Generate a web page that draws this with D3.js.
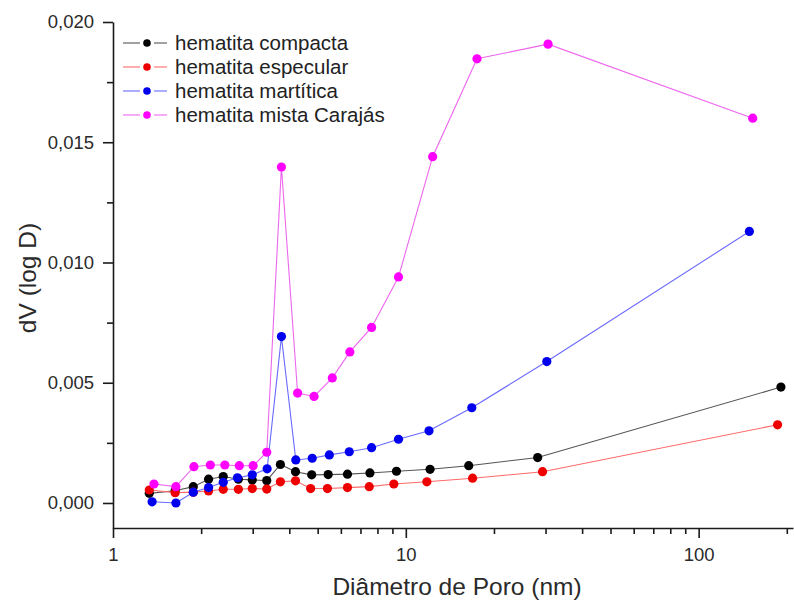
<!DOCTYPE html>
<html>
<head>
<meta charset="utf-8">
<script src="https://cdn.jsdelivr.net/npm/d3@7"></script>
<style>
  body { margin: 0; background: #fff; }
  svg { display: block; }
</style>
</head>
<body>
<svg id="chart" width="794" height="601"></svg>
<script>
// pore diameters (nm) and dV(log D)
const compactaX = [1.33, 1.63, 1.88, 2.12, 2.38, 2.68, 2.99, 3.35, 3.73, 4.20, 4.77, 5.43, 6.32, 7.54, 9.29, 12.1, 16.4, 28.2, 191];
const compactaY = [0.00040, 0.00051, 0.00068, 0.00099, 0.00110, 0.00099, 0.00096, 0.00093, 0.00160, 0.00130, 0.00117, 0.00118, 0.00120, 0.00125, 0.00132, 0.00140, 0.00155, 0.00189, 0.00482];

const especularX = [1.33, 1.63, 1.88, 2.12, 2.38, 2.68, 2.99, 3.35, 3.73, 4.20, 4.73, 5.40, 6.32, 7.50, 9.10, 11.8, 16.9, 29.3, 186];
const especularY = [0.00054, 0.00043, 0.00045, 0.00050, 0.00057, 0.00057, 0.00060, 0.00058, 0.00088, 0.00092, 0.00060, 0.00060, 0.00064, 0.00068, 0.00079, 0.00088, 0.00103, 0.00130, 0.00325];

const martiticaX = [1.36, 1.64, 1.88, 2.12, 2.38, 2.66, 2.99, 3.36, 3.76, 4.21, 4.79, 5.48, 6.41, 7.64, 9.44, 12.0, 16.8, 30.3, 149];
const martiticaY = [0.00005, 0.00000, 0.00045, 0.00064, 0.00086, 0.00105, 0.00117, 0.00142, 0.00692, 0.00179, 0.00186, 0.00200, 0.00213, 0.00230, 0.00265, 0.00300, 0.00396, 0.00588, 0.01129];

const mistaX = [1.38, 1.64, 1.89, 2.15, 2.41, 2.70, 3.01, 3.35, 3.76, 4.27, 4.86, 5.61, 6.44, 7.64, 9.44, 12.35, 17.5, 30.6, 153];
const mistaY = [0.00079, 0.00068, 0.00151, 0.00158, 0.00158, 0.00155, 0.00155, 0.00211, 0.01397, 0.00457, 0.00443, 0.00520, 0.00628, 0.00730, 0.00940, 0.01440, 0.01847, 0.01908, 0.01600];

const seriesNames = ['hematita compacta', 'hematita especular', 'hematita martítica', 'hematita mista Carajás'];
const yMajorTicks = [0, 0.005, 0.010, 0.015, 0.020];
const yMinorTicks = [0.0025, 0.0075, 0.0125, 0.0175];
const xMajorTicks = [1, 10, 100];
const xMinorTicks = [2, 3, 4, 5, 6, 7, 8, 9, 20, 30, 40, 50, 60, 70, 80, 90, 200];

const series = [
    { name: seriesNames[0], xs: compactaX, ys: compactaY, dot: '#000000', line: '#555555' },
    { name: seriesNames[1], xs: especularX, ys: especularY, dot: '#ee0000', line: '#ff6a6a' },
    { name: seriesNames[2], xs: martiticaX, ys: martiticaY, dot: '#0000ee', line: '#6a6aff' },
    { name: seriesNames[3], xs: mistaX, ys: mistaY, dot: '#ff00ff', line: '#ee66ee' }
];

const svg = d3.select('#chart');
const plotLeft = 113, plotRight = 793, plotTop = 22, plotBottom = 528;
const font = '"Liberation Sans", Arial, sans-serif';
const textColor = '#1a1a1a';

const x = d3.scaleLog().domain([1, 210]).range([plotLeft, plotRight]);
const y = d3.scaleLinear().domain([-0.00104, 0.020]).range([plotBottom, plotTop]);

svg.append('rect').attr('width', 794).attr('height', 601).attr('fill', '#fff');

// lines and markers
const line = d3.line().x(d => x(d[0])).y(d => y(d[1]));
series.forEach(s => {
    const pts = s.xs.map((v, i) => [v, s.ys[i]]);
    svg.append('path')
        .attr('d', line(pts))
        .attr('fill', 'none')
        .attr('stroke', s.line)
        .attr('stroke-width', 1.1);
    svg.append('g').selectAll('circle')
        .data(pts)
        .join('circle')
        .attr('cx', d => x(d[0]))
        .attr('cy', d => y(d[1]))
        .attr('r', 4.6)
        .attr('fill', s.dot);
});

// axes
const fmt = d => d3.format('.3f')(d).replace('.', ',');
svg.append('g')
    .attr('transform', `translate(${plotLeft},0)`)
    .call(d3.axisLeft(y).tickValues(yMajorTicks).tickFormat(fmt).tickSize(10).tickSizeOuter(0).tickPadding(9));
svg.append('g')
    .attr('transform', `translate(${plotLeft},0)`)
    .call(d3.axisLeft(y).tickValues(yMinorTicks).tickFormat('').tickSize(6).tickSizeOuter(0))
    .call(g => g.select('.domain').remove());

svg.append('g')
    .attr('transform', `translate(0,${plotBottom})`)
    .call(d3.axisBottom(x).tickValues(xMajorTicks).tickFormat(d3.format('d')).tickSize(10).tickSizeOuter(0).tickPadding(10));
svg.append('g')
    .attr('transform', `translate(0,${plotBottom})`)
    .call(d3.axisBottom(x).tickValues(xMinorTicks).tickFormat('').tickSize(6).tickSizeOuter(0))
    .call(g => g.select('.domain').remove());

svg.selectAll('.domain, .tick line')
    .attr('stroke', textColor)
    .attr('stroke-width', 1.6);
svg.selectAll('.tick text')
    .attr('fill', '#2a2a2a')
    .style('font-family', font)
    .style('font-size', '18.5px');

// axis titles
svg.append('text')
    .attr('x', 457)
    .attr('y', 595)
    .attr('text-anchor', 'middle')
    .attr('fill', '#2a2a2a')
    .style('font-family', font)
    .style('font-size', '24.5px')
    .text('Diâmetro de Poro (nm)');
svg.append('text')
    .attr('transform', 'translate(36,278) rotate(-90)')
    .attr('text-anchor', 'middle')
    .attr('fill', '#2a2a2a')
    .style('font-family', font)
    .style('font-size', '24.5px')
    .text('dV (log D)');

// legend
const legend = svg.append('g').attr('transform', 'translate(123,43)');
series.forEach((s, i) => {
    const g = legend.append('g').attr('transform', `translate(0,${i * 24})`);
    g.append('line').attr('x1', 0).attr('x2', 17).attr('stroke', s.line).attr('stroke-width', 1.1);
    g.append('line').attr('x1', 31).attr('x2', 44).attr('stroke', s.line).attr('stroke-width', 1.1);
    g.append('circle').attr('cx', 24).attr('r', 3.8).attr('fill', s.dot);
    g.append('text')
        .attr('x', 52)
        .attr('dy', '0.35em')
        .attr('fill', '#222')
        .style('font-family', font)
        .style('font-size', '20.5px')
        .text(s.name);
});
</script>
</body>
</html>
